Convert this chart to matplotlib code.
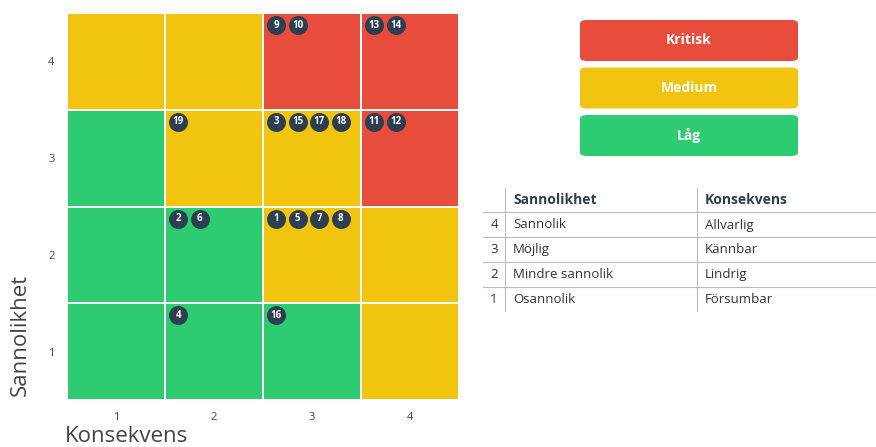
import numpy as np
import matplotlib.pyplot as plt
from matplotlib.colors import ListedColormap
from matplotlib.patches import FancyBboxPatch

plt.rcParams['font.family'] = ['Open Sans', 'DejaVu Sans']

# risknivå per cell: 0 = Låg, 1 = Medium, 2 = Kritisk (rader = sannolikhet 1..4)
levels = np.array([
    [0, 0, 0, 1],
    [0, 0, 1, 1],
    [0, 1, 1, 2],
    [1, 1, 2, 2],
])
level_names = ['Låg', 'Medium', 'Kritisk']
level_colors = ['#2ECC71', '#F1C40F', '#E74C3C']

# risker: (konsekvens, sannolikhet, id)
risk_cells = [
    (3, 4, [9, 10]),
    (4, 4, [13, 14]),
    (2, 3, [19]),
    (3, 3, [3, 15, 17, 18]),
    (4, 3, [11, 12]),
    (2, 2, [2, 6]),
    (3, 2, [1, 5, 7, 8]),
    (2, 1, [4]),
    (3, 1, [16]),
]

ticks = [1, 2, 3, 4]
table_nums = ['4', '3', '2', '1']
sannolikhet = ['Sannolik', 'Möjlig', 'Mindre sannolik', 'Osannolik']
konsekvens = ['Allvarlig', 'Kännbar', 'Lindrig', 'Försumbar']

fig = plt.figure(figsize=(8.76, 4.47), dpi=100)
W, H = 876, 447

# matris
ax = fig.add_axes([67 / W, (H - 400) / H, 392 / W, 387 / H])
edges = np.arange(0.5, 5.0, 1.0)
ax.pcolormesh(edges, edges, levels, cmap=ListedColormap(level_colors),
              vmin=-0.5, vmax=2.5, edgecolor='white', linewidth=1.4)
ax.set_xlim(0.5, 4.5)
ax.set_ylim(0.5, 4.5)
ax.set_xticks(ticks)
ax.set_yticks(ticks)
ax.tick_params(length=0, labelsize=8, labelcolor='#444444', pad=9)
for s in ax.spines.values():
    s.set_visible(False)

for cx, cy, ids in risk_cells:
    for i, rid in enumerate(ids):
        bx = cx - 0.5 + 0.135 + i * 0.22
        by = cy + 0.5 - 0.125
        ax.scatter(bx, by, s=160, color='#2C3E50', edgecolor='#2C3E50', zorder=3)
        ax.text(bx, by, str(rid), color='white', fontsize=7, fontweight='bold',
                ha='center', va='center', zorder=4)

fig.text(65 / W, (H - 437) / H, 'Konsekvens', fontsize=16, color='#444444',
         ha='left', va='center')
fig.text(20 / W, (H - 335) / H, 'Sannolikhet', fontsize=16, color='#444444',
         ha='center', va='center', rotation=90)

# förklaring
for i, (name, col) in enumerate(zip(level_names[::-1], level_colors[::-1])):
    top = 20 + i * 47.5
    box = FancyBboxPatch((580 / W, (H - top - 41) / H), 218 / W, 41 / H,
                         boxstyle='round,pad=0,rounding_size=0.008',
                         transform=fig.transFigure, facecolor=col,
                         edgecolor='none')
    fig.patches.append(box)
    fig.text(689 / W, (H - top - 20.5) / H, name, color='white', fontsize=10,
             fontweight='bold', ha='center', va='center')

# tabell
line_col = '#BBBBBB'
for yl in [212, 237, 262, 287]:
    fig.add_artist(plt.Line2D([483 / W, 876 / W], [(H - yl) / H] * 2,
                              color=line_col, lw=0.8))
for xl in [505, 697]:
    fig.add_artist(plt.Line2D([xl / W] * 2, [(H - 188) / H, (H - 311) / H],
                              color=line_col, lw=0.8))
fig.text(513 / W, (H - 200) / H, 'Sannolikhet', fontsize=10, fontweight='bold',
         color='#2C3E50', va='center')
fig.text(705 / W, (H - 200) / H, 'Konsekvens', fontsize=10, fontweight='bold',
         color='#2C3E50', va='center')
for i, (n, s, k) in enumerate(zip(table_nums, sannolikhet, konsekvens)):
    y = (H - (225 + i * 24.7)) / H
    fig.text(494 / W, y, n, fontsize=9.5, color='#333333', ha='center', va='center')
    fig.text(513 / W, y, s, fontsize=9.5, color='#333333', va='center')
    fig.text(705 / W, y, k, fontsize=9.5, color='#333333', va='center')

fig.savefig('out.png', dpi=100)
